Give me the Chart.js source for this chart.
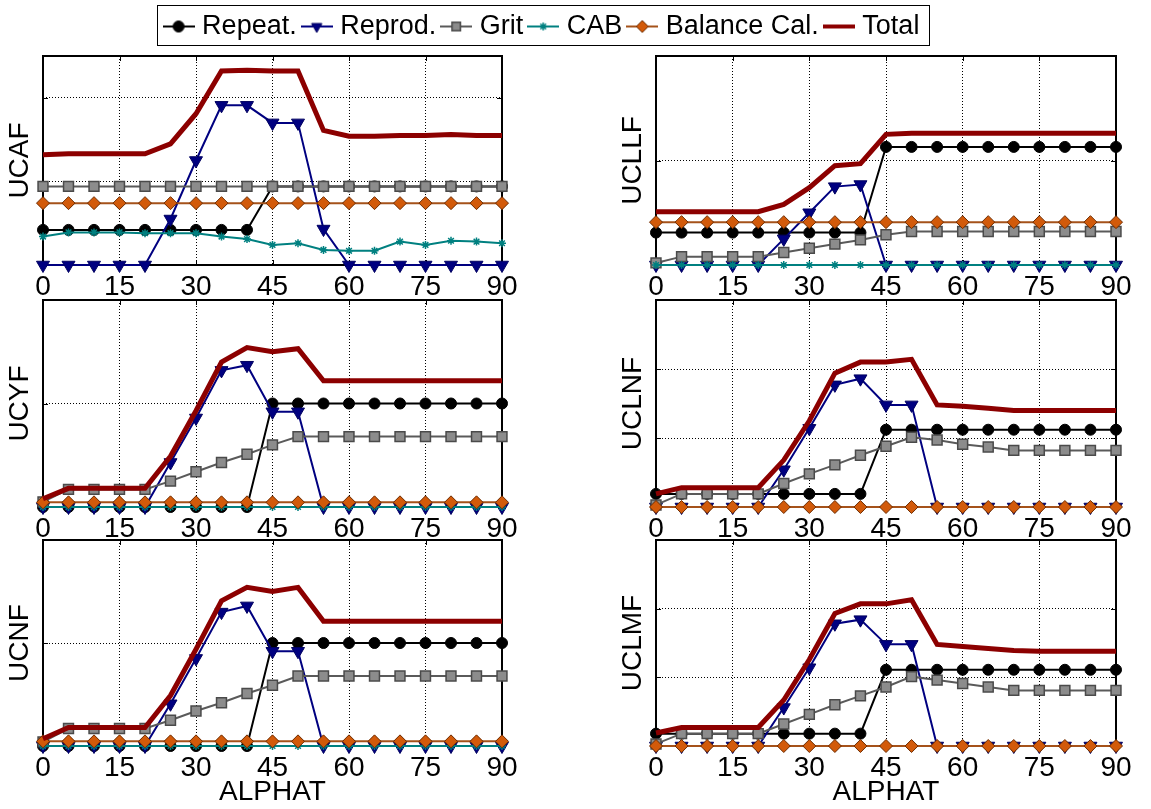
<!DOCTYPE html>
<html>
<head>
<meta charset="utf-8">
<title>Uncertainty contributions vs ALPHAT</title>
<script src="https://cdn.jsdelivr.net/npm/chart.js@4.4.0/dist/chart.umd.min.js"></script>
<style>
  html, body { margin: 0; padding: 0; background: #fff; }
  body { width: 1151px; height: 809px; position: relative; overflow: hidden; }
  canvas { position: absolute; }
  #legendBox { position: absolute; left: 157px; top: 5px; width: 773px; height: 41px;
               border: 1.5px solid #000; box-sizing: border-box; background: #fff; }
</style>
</head>
<body>
<canvas id="p0" width="545" height="264"></canvas>
<canvas id="p1" width="546" height="264"></canvas>
<canvas id="p2" width="545" height="270"></canvas>
<canvas id="p3" width="546" height="270"></canvas>
<canvas id="p4" width="545" height="279"></canvas>
<canvas id="p5" width="546" height="279"></canvas>
<div id="legendBox"></div>
<canvas id="legend" width="900" height="120"></canvas>

<script>
// ---------- data ----------
const ALPHAT = [0, 5, 10, 15, 20, 25, 30, 35, 40, 45, 50, 55, 60, 65, 70, 75, 80, 85, 90];
const ALPHAT_TICKS = [0, 15, 30, 45, 60, 75, 90];
const SERIES_NAMES = ['Repeat.', 'Reprod.', 'Grit', 'CAB', 'Balance Cal.', 'Total'];

// UCAF
const UCAF_REPEAT = [0.42, 0.42, 0.42, 0.42, 0.42, 0.42, 0.42, 0.42, 0.42, 0.94, 0.94, 0.94, 0.94, 0.94, 0.94, 0.94, 0.94, 0.94, 0.94];
const UCAF_REPROD = [0, 0, 0, 0, 0, 0.55, 1.25, 1.91, 1.91, 1.70, 1.70, 0.43, 0, 0, 0, 0, 0, 0, 0];
const UCAF_GRIT   = [0.94, 0.94, 0.94, 0.94, 0.94, 0.94, 0.94, 0.94, 0.94, 0.94, 0.94, 0.94, 0.94, 0.94, 0.94, 0.94, 0.94, 0.94, 0.94];
const UCAF_CAB    = [0.34, 0.39, 0.39, 0.39, 0.38, 0.38, 0.38, 0.34, 0.31, 0.24, 0.26, 0.18, 0.17, 0.17, 0.28, 0.24, 0.29, 0.28, 0.26];
const UCAF_BAL    = [0.74, 0.74, 0.74, 0.74, 0.74, 0.74, 0.74, 0.74, 0.74, 0.74, 0.74, 0.74, 0.74, 0.74, 0.74, 0.74, 0.74, 0.74, 0.74];
const UCAF_TOTAL  = [1.32, 1.33, 1.33, 1.33, 1.33, 1.45, 1.81, 2.32, 2.33, 2.32, 2.32, 1.61, 1.54, 1.54, 1.55, 1.55, 1.56, 1.55, 1.55];

// UCLLF
const UCLLF_REPEAT = [0.31, 0.31, 0.31, 0.31, 0.31, 0.31, 0.31, 0.31, 0.31, 1.13, 1.13, 1.13, 1.13, 1.13, 1.13, 1.13, 1.13, 1.13, 1.13];
const UCLLF_REPROD = [0, 0, 0, 0, 0, 0.25, 0.50, 0.75, 0.77, 0, 0, 0, 0, 0, 0, 0, 0, 0, 0];
const UCLLF_GRIT   = [0.02, 0.08, 0.08, 0.08, 0.08, 0.12, 0.16, 0.20, 0.24, 0.29, 0.32, 0.32, 0.32, 0.32, 0.32, 0.32, 0.32, 0.32, 0.32];
const UCLLF_CAB    = [0, 0, 0, 0, 0, 0, 0, 0, 0, 0, 0, 0, 0, 0, 0, 0, 0, 0, 0];
const UCLLF_BAL    = [0.41, 0.41, 0.41, 0.41, 0.41, 0.41, 0.41, 0.41, 0.41, 0.41, 0.41, 0.41, 0.41, 0.41, 0.41, 0.41, 0.41, 0.41, 0.41];
const UCLLF_TOTAL  = [0.51, 0.51, 0.51, 0.51, 0.51, 0.58, 0.74, 0.95, 0.97, 1.25, 1.26, 1.26, 1.26, 1.26, 1.26, 1.26, 1.26, 1.26, 1.26];

// UCYF
const UCYF_REPEAT = [0, 0, 0, 0, 0, 0, 0, 0, 0, 1.00, 1.00, 1.00, 1.00, 1.00, 1.00, 1.00, 1.00, 1.00, 1.00];
const UCYF_REPROD = [0, 0, 0, 0, 0, 0.43, 0.86, 1.32, 1.37, 0.92, 0.92, 0, 0, 0, 0, 0, 0, 0, 0];
const UCYF_GRIT   = [0.05, 0.17, 0.17, 0.17, 0.17, 0.25, 0.34, 0.43, 0.51, 0.60, 0.68, 0.68, 0.68, 0.68, 0.68, 0.68, 0.68, 0.68, 0.68];
const UCYF_CAB    = [0, 0, 0, 0, 0, 0, 0, 0, 0, 0, 0, 0, 0, 0, 0, 0, 0, 0, 0];
const UCYF_BAL    = [0.045, 0.045, 0.045, 0.045, 0.045, 0.045, 0.045, 0.045, 0.045, 0.045, 0.045, 0.045, 0.045, 0.045, 0.045, 0.045, 0.045, 0.045, 0.045];
const UCYF_TOTAL  = [0.08, 0.18, 0.18, 0.18, 0.18, 0.49, 0.93, 1.40, 1.54, 1.50, 1.53, 1.22, 1.22, 1.22, 1.22, 1.22, 1.22, 1.22, 1.22];

// UCLNF
const UCLNF_REPEAT = [0.19, 0.19, 0.19, 0.19, 0.19, 0.19, 0.19, 0.19, 0.19, 1.12, 1.12, 1.12, 1.12, 1.12, 1.12, 1.12, 1.12, 1.12, 1.12];
const UCLNF_REPROD = [0, 0, 0, 0, 0, 0.54, 1.14, 1.77, 1.86, 1.48, 1.48, 0, 0, 0, 0, 0, 0, 0, 0];
const UCLNF_GRIT   = [0.03, 0.19, 0.19, 0.19, 0.19, 0.34, 0.48, 0.61, 0.75, 0.88, 1.01, 0.97, 0.91, 0.87, 0.82, 0.82, 0.82, 0.82, 0.82];
const UCLNF_CAB    = [0, 0, 0, 0, 0, 0, 0, 0, 0, 0, 0, 0, 0, 0, 0, 0, 0, 0, 0];
const UCLNF_BAL    = [0, 0, 0, 0, 0, 0, 0, 0, 0, 0, 0, 0, 0, 0, 0, 0, 0, 0, 0];
const UCLNF_TOTAL  = [0.19, 0.28, 0.28, 0.28, 0.28, 0.68, 1.25, 1.94, 2.10, 2.10, 2.14, 1.48, 1.46, 1.43, 1.40, 1.40, 1.40, 1.40, 1.40];

// UCNF
const UCNF_REPEAT = [0, 0, 0, 0, 0, 0, 0, 0, 0, 1.00, 1.00, 1.00, 1.00, 1.00, 1.00, 1.00, 1.00, 1.00, 1.00];
const UCNF_REPROD = [0, 0, 0, 0, 0, 0.41, 0.85, 1.30, 1.36, 0.92, 0.92, 0, 0, 0, 0, 0, 0, 0, 0];
const UCNF_GRIT   = [0.04, 0.17, 0.17, 0.17, 0.17, 0.25, 0.34, 0.42, 0.51, 0.59, 0.68, 0.68, 0.68, 0.68, 0.68, 0.68, 0.68, 0.68, 0.68];
const UCNF_CAB    = [0, 0, 0, 0, 0, 0, 0, 0, 0, 0, 0, 0, 0, 0, 0, 0, 0, 0, 0];
const UCNF_BAL    = [0.045, 0.045, 0.045, 0.045, 0.045, 0.045, 0.045, 0.045, 0.045, 0.045, 0.045, 0.045, 0.045, 0.045, 0.045, 0.045, 0.045, 0.045, 0.045];
const UCNF_TOTAL  = [0.07, 0.18, 0.18, 0.18, 0.18, 0.49, 0.94, 1.41, 1.54, 1.50, 1.54, 1.21, 1.21, 1.21, 1.21, 1.21, 1.21, 1.21, 1.21];

// UCLMF
const UCLMF_REPEAT = [0.18, 0.18, 0.18, 0.18, 0.18, 0.18, 0.18, 0.18, 0.18, 1.11, 1.11, 1.11, 1.11, 1.11, 1.11, 1.11, 1.11, 1.11, 1.11];
const UCLMF_REPROD = [0, 0, 0, 0, 0, 0.56, 1.14, 1.78, 1.84, 1.48, 1.48, 0, 0, 0, 0, 0, 0, 0, 0];
const UCLMF_GRIT   = [0.03, 0.18, 0.18, 0.18, 0.18, 0.32, 0.46, 0.60, 0.73, 0.86, 1.01, 0.96, 0.91, 0.86, 0.81, 0.81, 0.81, 0.81, 0.81];
const UCLMF_CAB    = [0, 0, 0, 0, 0, 0, 0, 0, 0, 0, 0, 0, 0, 0, 0, 0, 0, 0, 0];
const UCLMF_BAL    = [0, 0, 0, 0, 0, 0, 0, 0, 0, 0, 0, 0, 0, 0, 0, 0, 0, 0, 0];
const UCLMF_TOTAL  = [0.19, 0.27, 0.27, 0.27, 0.27, 0.67, 1.26, 1.93, 2.07, 2.07, 2.13, 1.48, 1.45, 1.42, 1.39, 1.38, 1.38, 1.38, 1.38];

// ---------- styling ----------
const FONT = "'Liberation Sans', Arial, Helvetica, sans-serif";
const STYLES = [
  { line: '#000000', width: 2, point: 'circle',   radius: 5.5, rotation: 0,   fill: '#000000', edge: '#000000', edgeWidth: 1 },
  { line: '#000080', width: 2, point: 'triangle', radius: 7.5, rotation: 180, fill: '#000080', edge: '#000060', edgeWidth: 1 },
  { line: '#5a5a5a', width: 2, point: 'rect',     radius: 7,   rotation: 0,   fill: '#8c8c8c', edge: '#4a4a4a', edgeWidth: 1.5 },
  { line: '#008080', width: 2, point: 'star',     radius: 4,   rotation: 0,   fill: '#008080', edge: '#008080', edgeWidth: 1.5 },
  { line: '#a5521a', width: 2, point: 'rectRot',  radius: 6.5, rotation: 0,   fill: '#d25a0a', edge: '#6e2c00', edgeWidth: 1 },
  { line: '#8c0000', width: 5, point: 'circle',   radius: 0,   rotation: 0,   fill: '#8c0000', edge: '#8c0000', edgeWidth: 0 }
];

const PANELS = [
  { name: 'UCAF',  ymax: 2.5, col: 0, row: 0, series: [UCAF_REPEAT, UCAF_REPROD, UCAF_GRIT, UCAF_CAB, UCAF_BAL, UCAF_TOTAL] },
  { name: 'UCLLF', ymax: 2,   col: 1, row: 0, series: [UCLLF_REPEAT, UCLLF_REPROD, UCLLF_GRIT, UCLLF_CAB, UCLLF_BAL, UCLLF_TOTAL] },
  { name: 'UCYF',  ymax: 2,   col: 0, row: 1, series: [UCYF_REPEAT, UCYF_REPROD, UCYF_GRIT, UCYF_CAB, UCYF_BAL, UCYF_TOTAL] },
  { name: 'UCLNF', ymax: 3,   col: 1, row: 1, series: [UCLNF_REPEAT, UCLNF_REPROD, UCLNF_GRIT, UCLNF_CAB, UCLNF_BAL, UCLNF_TOTAL] },
  { name: 'UCNF',  ymax: 2,   col: 0, row: 2, series: [UCNF_REPEAT, UCNF_REPROD, UCNF_GRIT, UCNF_CAB, UCNF_BAL, UCNF_TOTAL] },
  { name: 'UCLMF', ymax: 3,   col: 1, row: 2, series: [UCLMF_REPEAT, UCLMF_REPROD, UCLMF_GRIT, UCLMF_CAB, UCLMF_BAL, UCLMF_TOTAL] }
];

// subplot grid geometry (canvas placement and plot-area margins)
const COLS = [
  { left: 0,   padL: 0, padR: 43 },
  { left: 605, padL: 8, padR: 35 }
];
const ROWS = [
  { top: 46,  xH: 45 },
  { top: 290, xH: 53 },
  { top: 530, xH: 63 }
];
const PAD_TOP = 10;
const Y_AXIS_W = 43;

// box around the axes plus MATLAB-style inward tick marks
const framePlugin = {
  id: 'frame',
  beforeDatasetsDraw(chart) {
    const { ctx, chartArea: a, scales } = chart;
    ctx.save();
    ctx.strokeStyle = '#000';
    ctx.lineWidth = 1;
    ctx.beginPath();
    scales.x.ticks.forEach(t => {
      const px = Math.round(scales.x.getPixelForValue(t.value)) + 0.5;
      ctx.moveTo(px, a.bottom); ctx.lineTo(px, a.bottom - 5);
      ctx.moveTo(px, a.top);    ctx.lineTo(px, a.top + 5);
    });
    scales.y.ticks.forEach(t => {
      const py = Math.round(scales.y.getPixelForValue(t.value)) + 0.5;
      ctx.moveTo(a.left, py);  ctx.lineTo(a.left + 5, py);
      ctx.moveTo(a.right, py); ctx.lineTo(a.right - 5, py);
    });
    ctx.stroke();
    ctx.lineWidth = 2;
    ctx.strokeRect(a.left, a.top, a.right - a.left, a.bottom - a.top);
    ctx.restore();
  }
};

function buildPanel(p, idx) {
  const col = COLS[p.col];
  const row = ROWS[p.row];
  const canvas = document.getElementById('p' + idx);
  canvas.style.left = col.left + 'px';
  canvas.style.top = row.top + 'px';
  const isBottom = p.row === ROWS.length - 1;

  const datasets = SERIES_NAMES.map((label, k) => {
    const st = STYLES[k];
    return {
      label,
      data: ALPHAT.map((a, i) => ({ x: a, y: p.series[k][i] })),
      borderColor: st.line,
      borderWidth: st.width,
      backgroundColor: st.fill,
      pointStyle: st.point,
      pointRadius: st.radius,
      pointRotation: st.rotation,
      pointBackgroundColor: st.fill,
      pointBorderColor: st.edge,
      pointBorderWidth: st.edgeWidth,
      tension: 0,
      fill: false,
      clip: false,
      order: SERIES_NAMES.length - 1 - k
    };
  });

  const gridOpts = { display: true, color: '#000', lineWidth: 1, drawTicks: false };
  const borderOpts = { display: false, dash: [1, 2] };

  return new Chart(canvas, {
    type: 'line',
    data: { datasets },
    options: {
      responsive: false,
      animation: false,
      events: [],
      layout: { padding: { top: PAD_TOP, left: col.padL, right: col.padR, bottom: 0 } },
      plugins: { legend: { display: false }, tooltip: { enabled: false } },
      scales: {
        x: {
          type: 'linear', min: 0, max: 90,
          afterBuildTicks: s => { s.ticks = ALPHAT_TICKS.map(v => ({ value: v })); },
          afterFit: s => { s.height = row.xH; },
          ticks: { color: '#000', font: { family: FONT, size: 28 }, padding: 5, maxRotation: 0, autoSkip: false },
          grid: gridOpts,
          border: borderOpts,
          title: { display: isBottom, text: 'ALPHAT', color: '#000', font: { family: FONT, size: 28 }, padding: { top: 0, bottom: 0 } }
        },
        y: {
          type: 'linear', min: 0, max: p.ymax,
          afterBuildTicks: s => {
            const t = [];
            for (let v = 0; v <= p.ymax; v += 1) t.push({ value: v });
            s.ticks = t;
          },
          afterFit: s => { s.width = Y_AXIS_W; },
          ticks: { display: false },
          grid: gridOpts,
          border: borderOpts,
          title: { display: true, text: p.name, color: '#000', font: { family: FONT, size: 28 }, padding: { top: 3, bottom: 0 } }
        }
      }
    },
    plugins: [framePlugin]
  });
}

PANELS.forEach(buildPanel);

// ---------- shared legend ----------
function legendIcon(st) {
  const c = document.createElement('canvas');
  c.width = 32; c.height = 24;
  const ctx = c.getContext('2d');
  ctx.strokeStyle = st.line;
  ctx.lineWidth = st.width === 5 ? 4 : st.width;
  ctx.beginPath();
  ctx.moveTo(0, 12); ctx.lineTo(32, 12);
  ctx.stroke();
  if (st.radius > 0) {
    ctx.fillStyle = st.fill;
    ctx.strokeStyle = st.edge;
    ctx.lineWidth = st.edgeWidth;
    Chart.helpers.drawPoint(ctx, {
      pointStyle: st.point, rotation: st.rotation,
      radius: Math.min(st.radius, 6), borderWidth: st.edgeWidth
    }, 16, 12);
  }
  return c;
}
const LEGEND_ICONS = STYLES.map(legendIcon);

const legendCanvas = document.getElementById('legend');
legendCanvas.style.left = (157 + 773 / 2 - 450) + 'px';
legendCanvas.style.top = '3px';

new Chart(legendCanvas, {
  type: 'line',
  data: { datasets: SERIES_NAMES.map(label => ({ label, data: [] })) },
  options: {
    responsive: false,
    animation: false,
    events: [],
    layout: { padding: 0 },
    scales: { x: { display: false }, y: { display: false } },
    plugins: {
      tooltip: { enabled: false },
      legend: {
        display: true,
        position: 'top',
        align: 'center',
        labels: {
          usePointStyle: true,
          pointStyleWidth: 20,
          boxHeight: 27,
          padding: 10,
          color: '#000',
          font: { family: FONT, size: 27 },
          generateLabels: () => SERIES_NAMES.map((text, k) => ({
            text,
            datasetIndex: k,
            hidden: false,
            pointStyle: LEGEND_ICONS[k],
            fontColor: '#000',
            fillStyle: 'rgba(0,0,0,0)',
            strokeStyle: 'rgba(0,0,0,0)',
            lineWidth: 0
          }))
        }
      }
    }
  }
});
</script>
</body>
</html>
